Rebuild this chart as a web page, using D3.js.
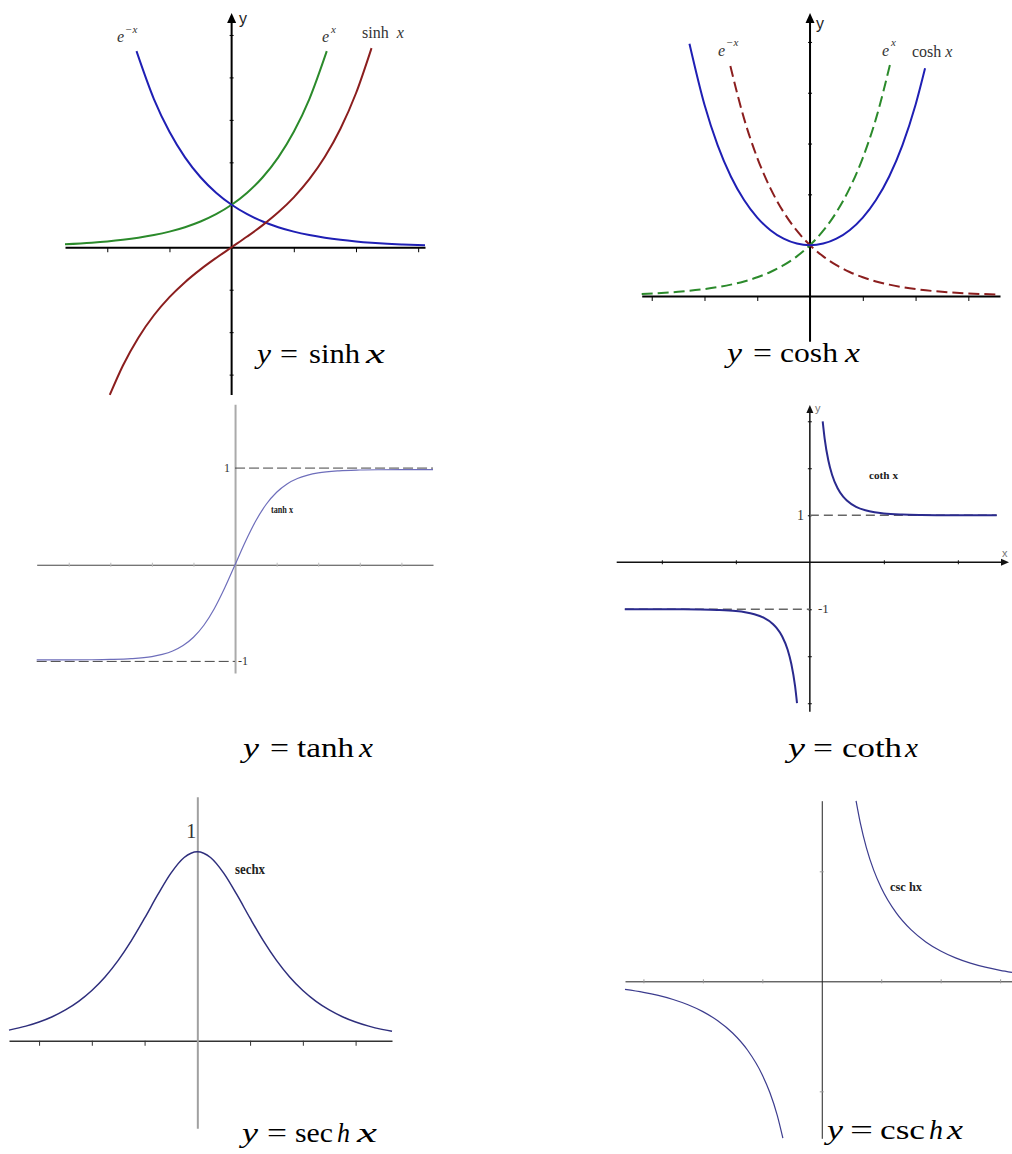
<!DOCTYPE html>
<html>
<head>
<meta charset="utf-8">
<script src="https://cdn.jsdelivr.net/npm/d3@7"></script>
<style>
  html, body { margin: 0; padding: 0; background: #fff; }
  svg { display: block; }
  text { font-family: "Liberation Serif", "Times New Roman", serif; }
</style>
</head>
<body>
<svg id="chart" width="1012" height="1154"></svg>
<script>
// ---------- y = sinh x (with e^x and e^-x) ----------
const sinhExpPosX = [-2.68, -2.25, -2, -1.75, -1.5, -1.25, -1, -0.75, -0.5, -0.25, 0, 0.25, 0.5, 0.75, 1, 1.25, 1.53];
const sinhExpPosY = [0.0686, 0.1054, 0.1353, 0.1738, 0.2231, 0.2865, 0.3679, 0.4724, 0.6065, 0.7788, 1, 1.284, 1.6487, 2.117, 2.7183, 3.4903, 4.6182];
const sinhExpNegX = [-1.53, -1.25, -1, -0.75, -0.5, -0.25, 0, 0.25, 0.5, 0.75, 1, 1.25, 1.5, 1.75, 2, 2.25, 2.5, 2.75, 3.11];
const sinhExpNegY = [4.6182, 3.4903, 2.7183, 2.117, 1.6487, 1.284, 1, 0.7788, 0.6065, 0.4724, 0.3679, 0.2865, 0.2231, 0.1738, 0.1353, 0.1054, 0.0821, 0.0639, 0.0446];
const sinhCurveX = [-1.96, -1.75, -1.5, -1.25, -1, -0.75, -0.5, -0.25, 0, 0.25, 0.5, 0.75, 1, 1.25, 1.5, 1.75, 2, 2.25];
const sinhCurveY = [-3.479, -2.7904, -2.1293, -1.6019, -1.1752, -0.8223, -0.5211, -0.2526, 0, 0.2526, 0.5211, 0.8223, 1.1752, 1.6019, 2.1293, 2.7904, 3.6269, 4.6912];
const sinhTicksX = [-2, -1, 1, 2, 3];
const sinhTicksY = [-3, -2, -1, 1, 2, 3, 4, 5];

// ---------- y = cosh x (with dashed e^x and e^-x) ----------
const coshCurveX = [-2.285, -2, -1.75, -1.5, -1.25, -1, -0.75, -0.5, -0.25, 0, 0.25, 0.5, 0.75, 1, 1.25, 1.5, 1.75, 2, 2.18];
const coshCurveY = [4.964, 3.7622, 2.9642, 2.3524, 1.8884, 1.5431, 1.2947, 1.1276, 1.0314, 1, 1.0314, 1.1276, 1.2947, 1.5431, 1.8884, 2.3524, 2.9642, 3.7622, 4.4797];
const coshExpNegX = [-1.51, -1.25, -1, -0.75, -0.5, -0.25, 0, 0.25, 0.5, 0.75, 1, 1.25, 1.5, 1.75, 2, 2.5, 3, 3.6];
const coshExpNegY = [4.5267, 3.4903, 2.7183, 2.117, 1.6487, 1.284, 1, 0.7788, 0.6065, 0.4724, 0.3679, 0.2865, 0.2231, 0.1738, 0.1353, 0.0821, 0.0498, 0.0273];
const coshExpPosX = [-3.19, -2.5, -2, -1.75, -1.5, -1.25, -1, -0.75, -0.5, -0.25, 0, 0.25, 0.5, 0.75, 1, 1.25, 1.52];
const coshExpPosY = [0.0412, 0.0821, 0.1353, 0.1738, 0.2231, 0.2865, 0.3679, 0.4724, 0.6065, 0.7788, 1, 1.284, 1.6487, 2.117, 2.7183, 3.4903, 4.5722];
const coshTicksX = [-3, -2, -1, 1, 2, 3];
const coshTicksY = [1, 2, 3, 4, 5];

// ---------- y = tanh x ----------
const tanhCurveX = [-4.77, -4, -3.5, -3, -2.5, -2, -1.75, -1.5, -1.25, -1, -0.75, -0.5, -0.25, 0, 0.25, 0.5, 0.75, 1, 1.25, 1.5, 1.75, 2, 2.5, 3, 3.5, 4, 4.76];
const tanhCurveY = [-0.985, -0.984, -0.983, -0.98, -0.972, -0.95, -0.927, -0.892, -0.836, -0.75, -0.626, -0.455, -0.241, 0, 0.241, 0.455, 0.626, 0.75, 0.836, 0.892, 0.927, 0.95, 0.972, 0.98, 0.983, 0.984, 0.985];
const tanhTicksX = [-4, -3, -2, -1, 1, 2, 3, 4];
const tanhAsymptotes = [1, -1];

// ---------- y = coth x ----------
const cothUpperX = [0.347, 0.4, 0.5, 0.6, 0.75, 0.9, 1, 1.25, 1.5, 1.75, 2, 2.5, 3, 3.5, 4, 5.05];
const cothUpperY = [2.997, 2.632, 2.164, 1.862, 1.574, 1.396, 1.313, 1.179, 1.105, 1.062, 1.037, 1.014, 1.005, 1.002, 1.001, 1.0];
const cothLowerX = [-5.0, -4, -3.5, -3, -2.5, -2, -1.75, -1.5, -1.25, -1, -0.9, -0.75, -0.6, -0.5, -0.4, -0.347];
const cothLowerY = [-1.0, -1.001, -1.002, -1.005, -1.014, -1.037, -1.062, -1.105, -1.179, -1.313, -1.396, -1.574, -1.862, -2.164, -2.632, -2.997];
const cothTicksX = [-4, -2, 2, 4];
const cothTicksY = [-3, -2, -1, 1, 2, 3];
const cothAsymptotes = [1, -1];

// ---------- y = sech x ----------
const sechCurveX = [-3.57, -3.25, -3, -2.75, -2.5, -2.25, -2, -1.75, -1.5, -1.25, -1, -0.75, -0.5, -0.25, 0, 0.25, 0.5, 0.75, 1, 1.25, 1.5, 1.75, 2, 2.25, 2.5, 2.75, 3, 3.25, 3.5, 3.69];
const sechCurveY = [0.0563, 0.0774, 0.0993, 0.1273, 0.1631, 0.2085, 0.2658, 0.3374, 0.4251, 0.5295, 0.6481, 0.7724, 0.8868, 0.9695, 1, 0.9695, 0.8868, 0.7724, 0.6481, 0.5295, 0.4251, 0.3374, 0.2658, 0.2085, 0.1631, 0.1273, 0.0993, 0.0774, 0.0603, 0.0499];
const sechTicksX = [-3, -2, -1, 1, 2, 3];

// ---------- y = csch x ----------
const cschUpperX = [0.577, 0.65, 0.75, 0.875, 1, 1.25, 1.5, 1.75, 2, 2.25, 2.5, 2.75, 3, 3.2];
const cschUpperY = [1.6404, 1.4353, 1.2161, 1.0086, 0.8509, 0.6243, 0.4696, 0.3584, 0.2757, 0.2132, 0.1653, 0.1284, 0.0998, 0.0817];
const cschLowerX = [-3.31, -3, -2.75, -2.5, -2.25, -2, -1.75, -1.5, -1.25, -1, -0.875, -0.75, -0.654];
const cschLowerY = [-0.0731, -0.0998, -0.1284, -0.1653, -0.2132, -0.2757, -0.3584, -0.4696, -0.6243, -0.8509, -1.0086, -1.2161, -1.4261];
const cschTicksX = [-3, -2, -1, 1, 2, 3];
const cschTicksY = [-1, 1];

const svg = d3.select("#chart");

// ---- helpers ----
function curve(g, xs, ys, x, y, color, width, dash) {
  const pts = xs.map((v, i) => [v, ys[i]]);
  const gen = d3.line().x(d => x(d[0])).y(d => y(d[1])).curve(d3.curveMonotoneX);
  g.append("path")
    .attr("d", gen(pts))
    .attr("fill", "none")
    .attr("stroke", color)
    .attr("stroke-width", width)
    .attr("stroke-dasharray", dash || null);
}

function xAxis(g, x, y, ticks, opt) {
  const ax = d3.axisBottom(x).tickValues(ticks).tickFormat("").tickSize(opt.down).tickSizeOuter(0);
  const a = g.append("g").attr("transform", `translate(0,${y(0)})`).call(ax);
  a.select(".domain").attr("stroke", opt.color).attr("stroke-width", opt.width);
  a.selectAll(".tick line").attr("stroke", opt.tickColor || opt.color)
    .attr("stroke-width", opt.tickWidth || 1).attr("y1", -(opt.up || 0));
  return a;
}

function yAxis(g, x, y, ticks, opt) {
  const ax = d3.axisRight(y).tickValues(ticks).tickFormat("").tickSize(opt.right).tickSizeOuter(0);
  const a = g.append("g").attr("transform", `translate(${x(0)},0)`).call(ax);
  a.select(".domain").attr("stroke", opt.color).attr("stroke-width", opt.width);
  a.selectAll(".tick line").attr("stroke", opt.tickColor || opt.color)
    .attr("stroke-width", opt.tickWidth || 1).attr("x1", -(opt.left || 0));
  return a;
}

function arrowUp(g, cx, tipY, len, half, color) {
  g.append("path")
    .attr("d", `M${cx},${tipY}L${cx - half},${tipY + len}L${cx + half},${tipY + len}Z`)
    .attr("fill", color);
}
function arrowRight(g, tipX, cy, len, half, color) {
  g.append("path")
    .attr("d", `M${tipX},${cy}L${tipX - len},${cy - half}L${tipX - len},${cy + half}Z`)
    .attr("fill", color);
}

function label(g, px, py, parts, opt) {
  const t = g.append("text")
    .attr("x", px).attr("y", py)
    .attr("font-size", opt.size)
    .attr("fill", opt.color || "#000")
    .attr("text-anchor", opt.anchor || "start")
    .attr("font-weight", opt.bold ? "bold" : null)
    .style("font-family", opt.family || null)
    .attr("xml:space", "preserve");
  parts.forEach(p => {
    const s = t.append("tspan").text(p.t);
    if (p.i) s.attr("font-style", "italic");
    if (p.dy) s.attr("dy", p.dy);
    if (p.fs) s.attr("font-size", p.fs);
    if (p.dx) s.attr("dx", p.dx);
  });
  if (opt.len) t.attr("textLength", opt.len).attr("lengthAdjust", "spacingAndGlyphs");
  return t;
}

// Caption such as "y = sinh x": each piece is its own text with a set left edge and width.
function formula(g, baseline, pieces) {
  pieces.forEach(p => {
    g.append("text")
      .attr("x", p.x).attr("y", baseline)
      .attr("font-size", 28)
      .attr("fill", "#000")
      .attr("font-style", p.i ? "italic" : null)
      .attr("textLength", p.w).attr("lengthAdjust", "spacingAndGlyphs")
      .text(p.t);
  });
}

// ================= Panel: sinh =================
{
  const g = svg.append("g");
  const x = d3.scaleLinear().domain([-2.68, 3.11]).range([65, 425]);
  const y = d3.scaleLinear().domain([-3.48, 5.47]).range([395, 15]);
  xAxis(g, x, y, sinhTicksX, { down: 5, color: "#000", width: 2 });
  const ya = yAxis(g, x, y, sinhTicksY, { right: 2, left: 2, color: "#000", width: 2 });
  ya.select(".domain").attr("d", `M0,${y.range()[0]}V${y.range()[1] + 6}`);
  arrowUp(g, x(0), 13, 10, 4.5, "#000");

  curve(g, sinhExpPosX, sinhExpPosY, x, y, "#2b8a2b", 2);
  curve(g, sinhExpNegX, sinhExpNegY, x, y, "#1f1fb4", 2);
  curve(g, sinhCurveX, sinhCurveY, x, y, "#8b1e1e", 2);

  label(g, 239, 24, [{ t: "y" }], { size: 16, family: "Liberation Sans, Arial, sans-serif", color: "#222" });
  label(g, 117, 42, [{ t: "e", i: true }, { t: "−x", i: true, fs: 11, dy: -9, dx: 1 }], { size: 16, color: "#333" });
  label(g, 322, 42, [{ t: "e", i: true }, { t: "x", i: true, fs: 11, dy: -9, dx: 2 }], { size: 16, color: "#333" });
  label(g, 362, 38, [{ t: "sinh" }, { t: "  x", i: true }], { size: 16, color: "#333" });
  formula(g, 363, [
    { t: "y", i: true, x: 257, w: 14 },
    { t: "=", x: 280, w: 18 },
    { t: "sinh", x: 309, w: 51 },
    { t: "x", i: true, x: 366, w: 19 }
  ]);
}

// ================= Panel: cosh =================
{
  const g = svg.append("g");
  const x = d3.scaleLinear().domain([-3.19, 3.6]).range([641.7, 1000]);
  const y = d3.scaleLinear().domain([-0.9, 5.53]).range([341.7, 15]);
  xAxis(g, x, y, coshTicksX, { down: 5, color: "#000", width: 2 });
  const ya = yAxis(g, x, y, coshTicksY, { right: 2, left: 2, color: "#000", width: 2 });
  ya.select(".domain").attr("d", `M0,${y.range()[0]}V${y.range()[1] + 6}`);
  arrowUp(g, x(0), 13, 10, 4.5, "#000");

  curve(g, coshExpPosX, coshExpPosY, x, y, "#2b8a2b", 2, "11,5");
  curve(g, coshExpNegX, coshExpNegY, x, y, "#8b1e1e", 2, "11,5");
  curve(g, coshCurveX, coshCurveY, x, y, "#1f1fb4", 2);

  label(g, 816, 29, [{ t: "y" }], { size: 16, family: "Liberation Sans, Arial, sans-serif", color: "#222" });
  label(g, 718, 56, [{ t: "e", i: true }, { t: "−x", i: true, fs: 11, dy: -10, dx: 1 }], { size: 16, color: "#333" });
  label(g, 882, 56, [{ t: "e", i: true }, { t: "x", i: true, fs: 11, dy: -10, dx: 2 }], { size: 16, color: "#333" });
  label(g, 912, 57, [{ t: "cosh" }, { t: " x", i: true }], { size: 16, color: "#333" });
  formula(g, 362, [
    { t: "y", i: true, x: 727, w: 15 },
    { t: "=", x: 753, w: 19 },
    { t: "cosh", x: 780, w: 58 },
    { t: "x", i: true, x: 845, w: 15 }
  ]);
}

// ================= Panel: tanh =================
{
  const g = svg.append("g");
  const x = d3.scaleLinear().domain([-4.77, 4.76]).range([36.7, 433]);
  const y = d3.scaleLinear().domain([-1.12, 1.66]).range([673, 404.3]);
  xAxis(g, x, y, tanhTicksX, { down: 2, up: 2, color: "#444", width: 1, tickColor: "#bbb" });
  yAxis(g, x, y, [], { right: 0, color: "#aaa", width: 2 });

  tanhAsymptotes.forEach(v => {
    const x0 = v > 0 ? x(0) : x.range()[0];
    const x1 = v > 0 ? x.range()[1] : x(0);
    g.append("line").attr("x1", x0).attr("x2", x1).attr("y1", y(v)).attr("y2", y(v))
      .attr("stroke", "#444").attr("stroke-width", 1).attr("stroke-dasharray", "10,4");
  });
  curve(g, tanhCurveX, tanhCurveY, x, y, "#6e6ebb", 1.2);

  label(g, 230, y(1) + 4, [{ t: "1" }], { size: 12, anchor: "end", color: "#333" });
  label(g, 238, y(-1) + 4, [{ t: "-1" }], { size: 12, color: "#333" });
  label(g, 271, 513, [{ t: "tanh x" }], { size: 10, bold: true, len: 22, color: "#222" });
  formula(g, 757, [
    { t: "y", i: true, x: 243, w: 16 },
    { t: "=", x: 270, w: 19 },
    { t: "tanh", x: 297, w: 57 },
    { t: "x", i: true, x: 359, w: 14 }
  ]);
}

// ================= Panel: coth =================
{
  const g = svg.append("g");
  const x = d3.scaleLinear().domain([-5.22, 5.32]).range([616.7, 1006.7]);
  const y = d3.scaleLinear().domain([-3.18, 3.31]).range([711.7, 406.7]);
  const xa = xAxis(g, x, y, cothTicksX, { down: 2, up: 2, color: "#111", width: 1.5 });
  xa.select(".domain").attr("d", `M${x.range()[0]},0H${x.range()[1] - 5}`);
  const ya = yAxis(g, x, y, cothTicksY, { right: 2, left: 2, color: "#111", width: 1.5 });
  ya.select(".domain").attr("d", `M0,${y.range()[0]}V${y.range()[1] + 5}`);
  arrowUp(g, x(0), 405, 8, 3.5, "#111");
  arrowRight(g, 1009, y(0), 8, 3.5, "#111");

  cothAsymptotes.forEach(v => {
    const x0 = v > 0 ? x(0) : x(-5.0);
    const x1 = v > 0 ? x(5.05) : x(0);
    g.append("line").attr("x1", x0).attr("x2", x1).attr("y1", y(v)).attr("y2", y(v))
      .attr("stroke", "#666").attr("stroke-width", 1.5).attr("stroke-dasharray", "9,5");
  });
  curve(g, cothUpperX, cothUpperY, x, y, "#2a2a8e", 2);
  curve(g, cothLowerX, cothLowerY, x, y, "#2a2a8e", 2);

  label(g, 1002, 557, [{ t: "x" }], { size: 11, family: "Liberation Sans, Arial, sans-serif", color: "#777" });
  label(g, 815, 412, [{ t: "y" }], { size: 11, family: "Liberation Sans, Arial, sans-serif", color: "#777" });
  label(g, 804, y(1) + 5, [{ t: "1" }], { size: 14, anchor: "end", color: "#333" });
  label(g, 818, y(-1) + 4, [{ t: "-1" }], { size: 13, color: "#333" });
  label(g, 869, 479, [{ t: "coth x" }], { size: 11, bold: true, len: 29, color: "#222" });
  formula(g, 757, [
    { t: "y", i: true, x: 788, w: 17 },
    { t: "=", x: 813, w: 20 },
    { t: "coth", x: 842, w: 60 },
    { t: "x", i: true, x: 905, w: 13 }
  ]);
}

// ================= Panel: sech =================
{
  const g = svg.append("g");
  const x = d3.scaleLinear().domain([-3.57, 3.69]).range([9, 392]);
  const y = d3.scaleLinear().domain([-0.463, 1.291]).range([1128.3, 796.7]);
  xAxis(g, x, y, sechTicksX, { down: 5, color: "#333", width: 1.5 });
  yAxis(g, x, y, [], { right: 0, color: "#a0a0a0", width: 2 });

  curve(g, sechCurveX, sechCurveY, x, y, "#2e2e7c", 1.5);

  label(g, x(0) - 6, 838, [{ t: "1" }], { size: 20, anchor: "middle", color: "#333" });
  label(g, 235, 874, [{ t: "sechx" }], { size: 15, bold: true, len: 30, color: "#222" });
  formula(g, 1142, [
    { t: "y", i: true, x: 242, w: 16 },
    { t: "=", x: 267, w: 20 },
    { t: "sec", x: 295, w: 38 },
    { t: "h", i: true, x: 337, w: 13 },
    { t: "x", i: true, x: 357, w: 20 }
  ]);
}

// ================= Panel: csch =================
{
  const g = svg.append("g");
  const x = d3.scaleLinear().domain([-3.31, 3.2]).range([625, 1012]);
  const y = d3.scaleLinear().domain([-1.427, 1.642]).range([1138.3, 800.7]);
  xAxis(g, x, y, cschTicksX, { down: 2, up: 2, color: "#222", width: 1, tickColor: "#999" });
  yAxis(g, x, y, cschTicksY, { right: 2, left: 2, color: "#222", width: 1, tickColor: "#999" });

  curve(g, cschUpperX, cschUpperY, x, y, "#3c3c8e", 1.2);
  curve(g, cschLowerX, cschLowerY, x, y, "#3c3c8e", 1.2);

  label(g, 890, 891, [{ t: "csc hx" }], { size: 12, bold: true, len: 32, color: "#222" });
  formula(g, 1139, [
    { t: "y", i: true, x: 827, w: 16 },
    { t: "=", x: 850, w: 23 },
    { t: "csc", x: 880, w: 45 },
    { t: "h", i: true, x: 929, w: 14 },
    { t: "x", i: true, x: 947, w: 16 }
  ]);
}
</script>
</body>
</html>
